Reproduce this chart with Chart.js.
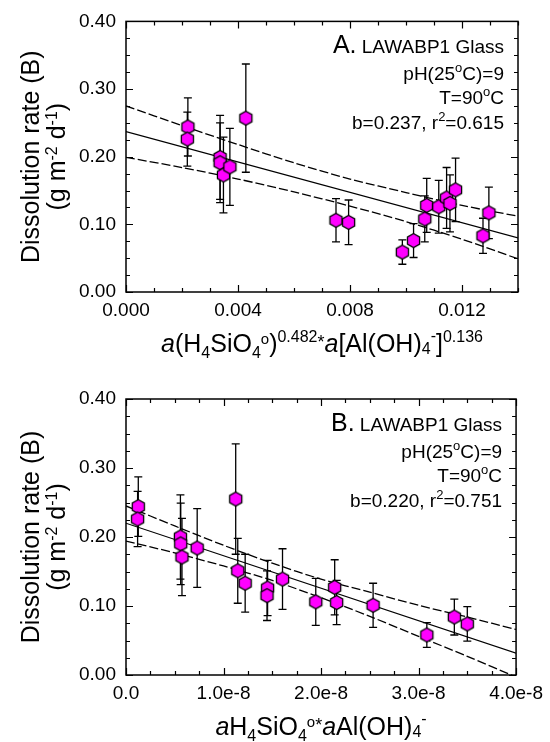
<!DOCTYPE html>
<html>
<head>
<meta charset="utf-8">
<script src="https://cdn.jsdelivr.net/npm/chart.js@4"></script>
<style>
  body { margin: 0; background: #fff; }
  .panel { position: absolute; left: 0; width: 550px; height: 371px; }
</style>
</head>
<body>
<div class="panel" style="top:0"><canvas id="chartA" width="550" height="371"></canvas></div>
<div class="panel" style="top:371px"><canvas id="chartB" width="550" height="371"></canvas></div>
<script>
// ---- panel A data ----
let xA = [0.00221, 0.00219, 0.00336, 0.00336, 0.00348, 0.00371, 0.00428, 0.00750, 0.00795, 0.00987,
          0.01027, 0.01067, 0.01074, 0.01117, 0.01145, 0.01157, 0.01177, 0.01275, 0.01296];
let yA = [0.244, 0.226, 0.199, 0.191, 0.173, 0.185, 0.257, 0.106, 0.103, 0.059,
          0.076, 0.108, 0.128, 0.126, 0.139, 0.131, 0.151, 0.083, 0.117];
let errA = [0.043, 0.040, 0.062, 0.059, 0.056, 0.057, 0.080, 0.032, 0.033, 0.018,
            0.025, 0.034, 0.040, 0.039, 0.045, 0.042, 0.047, 0.026, 0.038];
let fitAX = [0, 0.014];
let fitAY = [0.237, 0.080];
let bandAX = [0, 0.002, 0.004, 0.006, 0.008, 0.010, 0.012, 0.014];
let upperA = [0.275, 0.246, 0.218, 0.191, 0.167, 0.147, 0.128, 0.112];
let lowerA = [0.199, 0.184, 0.167, 0.148, 0.127, 0.104, 0.078, 0.049];
let ticksAX = [0, 0.004, 0.008, 0.012];

// ---- panel B data ----
let xB = [1.26e-9, 1.19e-9, 5.58e-9, 5.61e-9, 5.74e-9, 7.30e-9, 1.125e-8, 1.146e-8, 1.222e-8, 1.452e-8,
          1.446e-8, 1.605e-8, 1.946e-8, 2.140e-8, 2.160e-8, 2.534e-8, 3.085e-8, 3.367e-8, 3.500e-8];
let yB = [0.244, 0.226, 0.200, 0.190, 0.171, 0.184, 0.255, 0.151, 0.133, 0.126,
          0.115, 0.139, 0.106, 0.127, 0.105, 0.101, 0.058, 0.084, 0.074];
let errB = [0.043, 0.040, 0.061, 0.059, 0.056, 0.057, 0.080, 0.047, 0.042, 0.040,
            0.036, 0.044, 0.034, 0.040, 0.032, 0.032, 0.018, 0.026, 0.025];
let fitBX = [0, 4e-8];
let fitBY = [0.220, 0.0316];
let bandBX = [0, 5e-9, 1e-8, 1.5e-8, 2e-8, 2.5e-8, 3e-8, 3.5e-8, 4e-8];
let upperB = [0.245, 0.216, 0.188, 0.162, 0.139, 0.120, 0.101, 0.084, 0.066];
let lowerB = [0.194, 0.177, 0.158, 0.137, 0.112, 0.085, 0.056, 0.027, -0.003];
let ticksBX = [0, 1e-8, 2e-8, 3e-8, 4e-8];

let ticksY = [0, 0.1, 0.2, 0.3, 0.4];

const FONT = '"Liberation Sans", Arial, Helvetica, sans-serif';
Chart.defaults.font.family = FONT;
Chart.defaults.color = '#000';

// hexagon marker
function hexagon(r) {
  const c = document.createElement('canvas');
  const s = Math.ceil(r * 2 + 3);
  c.width = s; c.height = s;
  const g = c.getContext('2d');
  g.beginPath();
  for (let i = 0; i < 6; i++) {
    const a = Math.PI / 3 * i - Math.PI / 2;
    const px = s / 2 + r * Math.cos(a), py = s / 2 + r * Math.sin(a);
    if (i) g.lineTo(px, py); else g.moveTo(px, py);
  }
  g.closePath();
  g.fillStyle = '#ff00ff';
  g.fill();
  g.lineWidth = 1.3;
  g.strokeStyle = '#000';
  g.stroke();
  return c;
}
const hex = hexagon(7);

function pts(xs, ys) { return xs.map((x, i) => ({ x: x, y: ys[i] })); }

// rich text: parts are {t, s (size), dy (raise), i (italic)}
function drawRich(ctx, parts, x, y, align) {
  const font = p => (p.i ? 'italic ' : '') + p.s + 'px ' + FONT;
  let w = 0;
  parts.forEach(p => { ctx.font = font(p); w += ctx.measureText(p.t).width; });
  let cx = align === 'right' ? x - w : align === 'center' ? x - w / 2 : x;
  ctx.textAlign = 'left';
  ctx.textBaseline = 'alphabetic';
  ctx.fillStyle = '#000';
  parts.forEach(p => {
    ctx.font = font(p);
    ctx.fillText(p.t, cx, y - (p.dy || 0));
    cx += ctx.measureText(p.t).width;
  });
}
const N = (t, s) => ({ t: t, s: s || 19 });
const SUP = (t, s) => ({ t: t, s: s || 13, dy: 8 });
const I = (t, s) => ({ t: t, s: s, i: true });

// error bars under the markers
const errorBars = {
  id: 'errorBars',
  beforeDatasetDraw(chart, args) {
    if (args.index !== 0) return;
    const ds = chart.data.datasets[0];
    const xs = chart.scales.x, ys = chart.scales.y;
    const ctx = chart.ctx;
    ctx.save();
    ctx.strokeStyle = '#000';
    ctx.lineWidth = 1.3;
    ds.data.forEach((p, i) => {
      const e = ds.errs[i];
      const px = xs.getPixelForValue(p.x);
      const t = ys.getPixelForValue(p.y + e), b = ys.getPixelForValue(p.y - e);
      ctx.beginPath();
      ctx.moveTo(px, t); ctx.lineTo(px, b);
      ctx.moveTo(px - 4, t); ctx.lineTo(px + 4, t);
      ctx.moveTo(px - 4, b); ctx.lineTo(px + 4, b);
      ctx.stroke();
    });
    ctx.restore();
  }
};

// frame with inward major/minor ticks on all four sides
function frame(xMinor, xMajor) {
  return {
    id: 'frame',
    afterDraw(chart) {
      const a = chart.chartArea, ctx = chart.ctx;
      const xs = chart.scales.x, ys = chart.scales.y;
      ctx.save();
      ctx.strokeStyle = '#000';
      ctx.lineWidth = 1.5;
      ctx.strokeRect(a.left, a.top, a.right - a.left, a.bottom - a.top);
      ctx.lineWidth = 1.2;
      ctx.beginPath();
      for (let k = 0; k * xMinor <= xs.max * 1.0001; k++) {
        const v = k * xMinor;
        const len = Math.abs(v / xMajor - Math.round(v / xMajor)) < 1e-6 ? 7 : 4;
        const px = Math.round(xs.getPixelForValue(v)) + 0.5;
        ctx.moveTo(px, a.bottom); ctx.lineTo(px, a.bottom - len);
        ctx.moveTo(px, a.top); ctx.lineTo(px, a.top + len);
      }
      for (let k = 0; k <= 16; k++) {
        const v = k * 0.025;
        const len = k % 4 === 0 ? 7 : 4;
        const py = Math.round(ys.getPixelForValue(v)) + 0.5;
        ctx.moveTo(a.left, py); ctx.lineTo(a.left + len, py);
        ctx.moveTo(a.right, py); ctx.lineTo(a.right - len, py);
      }
      ctx.stroke();
      ctx.restore();
    }
  };
}

function labels(panel, fitText, xTitle) {
  return {
    id: 'labels',
    afterDraw(chart) {
      const a = chart.chartArea, ctx = chart.ctx;
      const rx = a.right - 14;
      drawRich(ctx, [N(panel + '.', 25), N(' LAWABP1 Glass')], rx, a.top + 32, 'right');
      drawRich(ctx, [N('pH(25'), SUP('o'), N('C)=9')], rx, a.top + 59, 'right');
      drawRich(ctx, [N('T=90'), SUP('o'), N('C')], rx, a.top + 83, 'right');
      drawRich(ctx, fitText, rx, a.top + 108, 'right');
      // x title
      drawRich(ctx, xTitle, (a.left + a.right) / 2, a.bottom + 60, 'center');
      // y title, rotated
      const mid = (a.top + a.bottom) / 2;
      ctx.save();
      ctx.translate(39, mid);
      ctx.rotate(-Math.PI / 2);
      drawRich(ctx, [N('Dissolution rate (B)', 25)], 0, 0, 'center');
      ctx.restore();
      ctx.save();
      ctx.translate(65, mid);
      ctx.rotate(-Math.PI / 2);
      drawRich(ctx, [N('(g m', 25), SUP('-2', 16), N(' d', 25), SUP('-1', 16), N(')', 25)], 0, 0, 'center');
      ctx.restore();
    }
  };
}

function makeChart(id, d) {
  return new Chart(document.getElementById(id), {
    type: 'scatter',
    data: {
      datasets: [
        {
          data: pts(d.xs, d.ys),
          errs: d.errs,
          pointStyle: hex,
          order: 0
        },
        {
          data: pts(d.fitX, d.fitY),
          showLine: true, pointRadius: 0,
          borderColor: '#000', borderWidth: 1.2,
          order: 1
        },
        {
          data: pts(d.bandX, d.upper),
          showLine: true, pointRadius: 0, tension: 0.3,
          borderColor: '#000', borderWidth: 1.3, borderDash: [9, 3],
          order: 1
        },
        {
          data: pts(d.bandX, d.lower),
          showLine: true, pointRadius: 0, tension: 0.3,
          borderColor: '#000', borderWidth: 1.3, borderDash: [9, 3],
          order: 1
        }
      ]
    },
    options: {
      responsive: false,
      devicePixelRatio: 1,
      animation: false,
      layout: { padding: { top: d.top, right: 32, left: 0, bottom: 0 } },
      plugins: { legend: { display: false }, tooltip: { enabled: false } },
      scales: {
        x: {
          type: 'linear', min: 0, max: d.xMax,
          grid: { display: false, drawTicks: false },
          border: { display: false },
          ticks: { font: { size: 19 }, color: '#000', padding: 7, maxRotation: 0, callback: d.fmt },
          afterBuildTicks: s => { s.ticks = d.xTicks.map(v => ({ value: v })); },
          afterFit: s => { s.height = d.xh; }
        },
        y: {
          type: 'linear', min: 0, max: 0.4,
          grid: { display: false, drawTicks: false },
          border: { display: false },
          ticks: { font: { size: 19 }, color: '#000', padding: 10, callback: v => v.toFixed(2) },
          afterBuildTicks: s => { s.ticks = ticksY.map(v => ({ value: v })); },
          afterFit: s => { s.width = 126; }
        }
      }
    },
    plugins: [errorBars, frame(d.minor, d.major), labels(d.panel, d.fitText, d.xTitle)]
  });
}

makeChart('chartA', {
  xs: xA, ys: yA, errs: errA, fitX: fitAX, fitY: fitAY,
  bandX: bandAX, upper: upperA, lower: lowerA,
  xMax: 0.014, xTicks: ticksAX, minor: 0.001, major: 0.004,
  fmt: v => v.toFixed(3),
  top: 17, xh: 79, panel: 'A',
  fitText: [N('b=0.237, r'), SUP('2'), N('=0.615')],
  xTitle: [I('a', 25), N('(H', 25), { t: '4', s: 16, dy: -6 }, N('SiO', 25), { t: '4', s: 16, dy: -6 },
           SUP('o', 15), N(')', 25), { t: '0.482', s: 16, dy: 10 }, { t: '*', s: 18, dy: 4 }, I('a', 25),
           N('[Al(OH)', 25), { t: '4', s: 16, dy: -2 }, { t: '-', s: 16, dy: 11 }, N(']', 25),
           { t: '0.136', s: 16, dy: 10 }]
});

makeChart('chartB', {
  xs: xB, ys: yB, errs: errB, fitX: fitBX, fitY: fitBY,
  bandX: bandBX, upper: upperB, lower: lowerB,
  xMax: 4e-8, xTicks: ticksBX, minor: 2.5e-9, major: 1e-8,
  fmt: v => v === 0 ? '0.0' : (v * 1e8).toFixed(1) + 'e-8',
  top: 28, xh: 67, panel: 'B',
  fitText: [N('b=0.220, r'), SUP('2'), N('=0.751')],
  xTitle: [I('a', 25), N('H', 25), { t: '4', s: 16, dy: -6 }, N('SiO', 25), { t: '4', s: 16, dy: -6 },
           SUP('o', 15), { t: '*', s: 18, dy: 4 }, I('a', 25), N('Al(OH)', 25),
           { t: '4', s: 16, dy: -2 }, { t: '-', s: 16, dy: 11 }]
});
</script>
</body>
</html>
